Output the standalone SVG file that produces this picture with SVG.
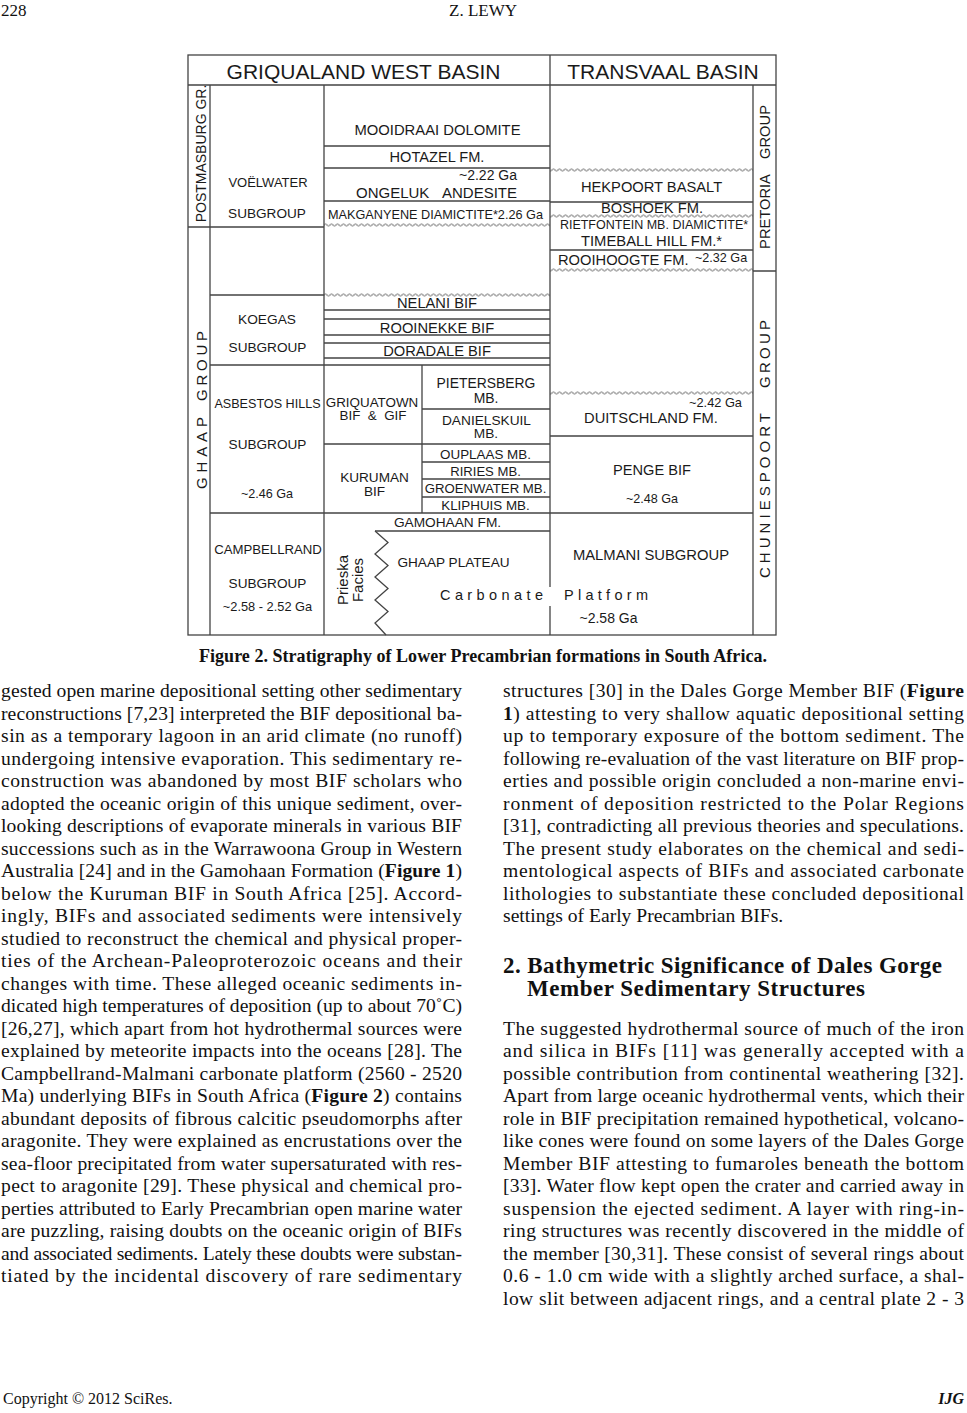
<svg xmlns="http://www.w3.org/2000/svg" width="967" height="1413" viewBox="0 0 967 1413">
<style>
.d{font-family:"Liberation Sans",Arial,sans-serif;fill:#1a1a1a;text-anchor:middle}
.s{font-family:"Liberation Sans",Arial,sans-serif;fill:#1a1a1a}
.p{font-family:"Liberation Serif","Times New Roman",serif;fill:#111;font-size:19.6px}
.hb{font-family:"Liberation Serif","Times New Roman",serif;fill:#111;font-weight:bold}
.bf{font-weight:bold}
</style>
<defs>
<pattern id="wv" patternUnits="userSpaceOnUse" x="0" y="-2.5" width="6" height="5">
<path d="M0 2.5 Q1.5 0.6 3 2.5 T6 2.5" fill="none" stroke="#444" stroke-width="0.9"/>
</pattern>
</defs>
<rect width="967" height="1413" fill="#fff"/>

<!-- page header -->
<text class="p" x="1" y="16" style="font-size:17px">228</text>
<text class="p" x="483" y="16" style="font-size:17px" text-anchor="middle">Z. LEWY</text>

<!-- connectors / frame lines -->
<g id="connectors" stroke="#444" stroke-width="1.3" fill="none">
<rect x="188" y="55" width="588" height="580"/>
<path d="M188 85H776M550 55V587M550 606V635M210 85V635M324 85V635M753 85V635"/>
<path d="M188 227H324M210 295H324M210 365H550M210 513H753"/>
<path d="M324 146H550M324 168H550M324 201H550M324 310H550M324 319H550M324 335H550M324 343H550M324 358H550"/>
<path d="M422 365V513M422 409H550M324 444H550M422 462H550M422 479H550M422 497H550M375 531H550"/>
<path d="M375 531L388 542.5L375 554L388 565.5L375 577L388 588.5L375 600L388 611.5L375 623L386 635"/>
<path d="M550 202H753M550 250H753M550 436H753M753 271H776"/>
<g stroke="none" fill="url(#wv)">
<rect x="324" y="-2.5" width="226" height="5" transform="translate(0,225)"/>
<rect x="324" y="-2.5" width="226" height="5" transform="translate(0,295)"/>
<rect x="550" y="-2.5" width="203" height="5" transform="translate(0,170)"/>
<rect x="550" y="-2.5" width="203" height="5" transform="translate(0,216)"/>
<rect x="550" y="-2.5" width="203" height="5" transform="translate(0,270)"/>
<rect x="550" y="-2.5" width="203" height="5" transform="translate(0,393)"/>
</g>
</g>

<!-- titles -->
<g id="griqualand-title"><text class="d" x="363.5" y="79" font-size="21">GRIQUALAND WEST BASIN</text></g>
<g id="transvaal-title"><text class="d" x="663" y="79" font-size="21">TRANSVAAL BASIN</text></g>

<!-- vertical group labels -->
<g id="postmasburg"><text class="d" transform="translate(206,153.5) rotate(-90)" font-size="14">POSTMASBURG GR.</text></g>
<g id="ghaap-group">
<text class="d" transform="translate(207,453) rotate(-90)" font-size="15" textLength="72" lengthAdjust="spacing">GHAAP</text>
<text class="d" transform="translate(207,366) rotate(-90)" font-size="15" textLength="70" lengthAdjust="spacing">GROUP</text>
</g>
<g id="pretoria-group">
<text class="d" transform="translate(770,211.5) rotate(-90)" font-size="14.7">PRETORIA</text>
<text class="d" transform="translate(770,132) rotate(-90)" font-size="14.7">GROUP</text>
</g>
<g id="chuniespoort-group">
<text class="d" transform="translate(770,495.5) rotate(-90)" font-size="15" textLength="165" lengthAdjust="spacing">CHUNIESPOORT</text>
<text class="d" transform="translate(770,354) rotate(-90)" font-size="15" textLength="68" lengthAdjust="spacing">GROUP</text>
</g>

<!-- Griqualand West: upper -->
<g id="voelwater"><text class="d" x="268" y="187" font-size="13">VOËLWATER</text><text class="d" x="267" y="218" font-size="13.6">SUBGROUP</text></g>
<g id="mooidraai"><text class="d" x="437.5" y="135" font-size="14.8">MOOIDRAAI DOLOMITE</text></g>
<g id="hotazel"><text class="d" x="437" y="162" font-size="14.6">HOTAZEL FM.</text></g>
<g id="ongeluk"><text class="d" x="488" y="180" font-size="14">~2.22 Ga</text><text class="s" x="356" y="198" font-size="15">ONGELUK</text><text class="s" x="517" y="198" font-size="15" text-anchor="end">ANDESITE</text></g>
<g id="makganyene"><text class="s" x="328" y="219" font-size="12.8" textLength="215" lengthAdjust="spacingAndGlyphs">MAKGANYENE DIAMICTITE*2.26 Ga</text></g>

<!-- Transvaal upper -->
<g id="hekpoort"><text class="d" x="651.5" y="192" font-size="14.7">HEKPOORT BASALT</text></g>
<g id="boshoek"><text class="d" x="652" y="213" font-size="14.7">BOSHOEK FM.</text></g>
<g id="rietfontein"><text class="d" x="654" y="229" font-size="12.5">RIETFONTEIN MB. DIAMICTITE*</text></g>
<g id="timeball"><text class="d" x="651.5" y="246" font-size="14.8">TIMEBALL HILL FM.*</text></g>
<g id="rooihoogte"><text class="s" x="558" y="265" font-size="14.7">ROOIHOOGTE FM.</text><text class="s" x="695" y="262" font-size="12.6">~2.32 Ga</text></g>

<!-- Koegas -->
<g id="koegas"><text class="d" x="267" y="324" font-size="13.7">KOEGAS</text><text class="d" x="267.5" y="352" font-size="13.6">SUBGROUP</text></g>
<g id="nelani"><text class="d" x="437" y="308" font-size="14.7">NELANI BIF</text></g>
<g id="rooinekke"><text class="d" x="437" y="333" font-size="14.7">ROOINEKKE BIF</text></g>
<g id="doradale"><text class="d" x="437" y="356" font-size="14.7">DORADALE BIF</text></g>

<!-- Asbestos Hills -->
<g id="asbestos"><text class="d" x="267.5" y="408" font-size="12.6">ASBESTOS HILLS</text><text class="d" x="267.5" y="449" font-size="13.6" fill="#444">SUBGROUP</text><text class="d" x="267" y="498" font-size="12.6">~2.46 Ga</text></g>
<g id="griquatown"><text class="d" x="372" y="407" font-size="13.4">GRIQUATOWN</text><text class="d" x="373" y="420" font-size="13.4" xml:space="preserve">BIF  &amp;  GIF</text></g>
<g id="pietersberg"><text class="d" x="486" y="388" font-size="13.9">PIETERSBERG</text><text class="d" x="486" y="403" font-size="13.9">MB.</text></g>
<g id="danielskuil"><text class="d" x="486.5" y="425" font-size="13.7">DANIELSKUIL</text><text class="d" x="486" y="438" font-size="13.7">MB.</text></g>
<g id="kuruman"><text class="d" x="374.5" y="482" font-size="13.6">KURUMAN</text><text class="d" x="374.5" y="496" font-size="13.6">BIF</text></g>
<g id="ouplaas"><text class="d" x="485.5" y="459" font-size="13.4">OUPLAAS MB.</text></g>
<g id="riries"><text class="d" x="485.5" y="476" font-size="13.1">RIRIES MB.</text></g>
<g id="groenwater"><text class="d" x="485.5" y="493" font-size="13.2">GROENWATER MB.</text></g>
<g id="kliphuis"><text class="d" x="485.5" y="510" font-size="13.4">KLIPHUIS MB.</text></g>

<!-- Transvaal lower -->
<g id="duitschland"><text class="d" x="715.5" y="407" font-size="12.8">~2.42 Ga</text><text class="d" x="651" y="423" font-size="14.7">DUITSCHLAND FM.</text></g>
<g id="penge"><text class="d" x="652" y="475" font-size="14.6">PENGE BIF</text><text class="d" x="652" y="503" font-size="12.6">~2.48 Ga</text></g>
<g id="malmani"><text class="d" x="651" y="560" font-size="14.8">MALMANI SUBGROUP</text><text class="d" x="608.5" y="623" font-size="14">~2.58 Ga</text></g>

<!-- Campbellrand -->
<g id="campbellrand"><text class="d" x="268" y="554" font-size="13.2">CAMPBELLRAND</text><text class="d" x="267.5" y="588" font-size="13.6">SUBGROUP</text><text class="d" x="267.5" y="611" font-size="12.8">~2.58 - 2.52 Ga</text></g>
<g id="gamohaan"><text class="d" x="447.5" y="527" font-size="13.7">GAMOHAAN FM.</text></g>
<g id="ghaap-plateau"><text class="d" x="453.5" y="567" font-size="13.6">GHAAP PLATEAU</text></g>
<g id="prieska"><text class="d" transform="translate(348,580) rotate(-90)" font-size="15">Prieska</text><text class="d" transform="translate(363,580) rotate(-90)" font-size="15">Facies</text></g>
<g id="carbonate-platform"><text class="s" x="440" y="600" font-size="14.5" textLength="103" lengthAdjust="spacing">Carbonate</text><text class="s" x="564" y="600" font-size="14.5" textLength="84" lengthAdjust="spacing">Platform</text></g>

<!-- caption -->
<text class="hb" x="199" y="662" font-size="18" textLength="568" lengthAdjust="spacing">Figure 2. Stratigraphy of Lower Precambrian formations in South Africa.</text>

<!-- left column -->
<g class="p">
<text x="1" y="697" textLength="461" lengthAdjust="spacing">gested open marine depositional setting other sedimentary</text>
<text x="1" y="719.5" textLength="461" lengthAdjust="spacing">reconstructions [7,23] interpreted the BIF depositional ba-</text>
<text x="1" y="742" textLength="461" lengthAdjust="spacing">sin as a temporary lagoon in an arid climate (no runoff)</text>
<text x="1" y="764.5" textLength="461" lengthAdjust="spacing">undergoing intensive evaporation. This sedimentary re-</text>
<text x="1" y="787" textLength="461" lengthAdjust="spacing">construction was abandoned by most BIF scholars who</text>
<text x="1" y="809.5" textLength="461" lengthAdjust="spacing">adopted the oceanic origin of this unique sediment, over-</text>
<text x="1" y="832" textLength="461" lengthAdjust="spacing">looking descriptions of evaporate minerals in various BIF</text>
<text x="1" y="854.5" textLength="461" lengthAdjust="spacing">successions such as in the Warrawoona Group in Western</text>
<text x="1" y="877" textLength="461" lengthAdjust="spacing">Australia [24] and in the Gamohaan Formation (<tspan class="bf">Figure 1</tspan>)</text>
<text x="1" y="899.5" textLength="461" lengthAdjust="spacing">below the Kuruman BIF in South Africa [25]. Accord-</text>
<text x="1" y="922" textLength="461" lengthAdjust="spacing">ingly, BIFs and associated sediments were intensively</text>
<text x="1" y="944.5" textLength="461" lengthAdjust="spacing">studied to reconstruct the chemical and physical proper-</text>
<text x="1" y="967" textLength="461" lengthAdjust="spacing">ties of the Archean-Paleoproterozoic oceans and their</text>
<text x="1" y="989.5" textLength="461" lengthAdjust="spacing">changes with time. These alleged oceanic sediments in-</text>
<text x="1" y="1012" textLength="461" lengthAdjust="spacing">dicated high temperatures of deposition (up to about 70˚C)</text>
<text x="1" y="1034.5" textLength="461" lengthAdjust="spacing">[26,27], which apart from hot hydrothermal sources were</text>
<text x="1" y="1057" textLength="461" lengthAdjust="spacing">explained by meteorite impacts into the oceans [28]. The</text>
<text x="1" y="1079.5" textLength="461" lengthAdjust="spacing">Campbellrand-Malmani carbonate platform (2560 - 2520</text>
<text x="1" y="1102" textLength="461" lengthAdjust="spacing">Ma) underlying BIFs in South Africa (<tspan class="bf">Figure 2</tspan>) contains</text>
<text x="1" y="1124.5" textLength="461" lengthAdjust="spacing">abundant deposits of fibrous calcitic pseudomorphs after</text>
<text x="1" y="1147" textLength="461" lengthAdjust="spacing">aragonite. They were explained as encrustations over the</text>
<text x="1" y="1169.5" textLength="461" lengthAdjust="spacing">sea-floor precipitated from water supersaturated with res-</text>
<text x="1" y="1192" textLength="461" lengthAdjust="spacing">pect to aragonite [29]. These physical and chemical pro-</text>
<text x="1" y="1214.5" textLength="461" lengthAdjust="spacing">perties attributed to Early Precambrian open marine water</text>
<text x="1" y="1237" textLength="461" lengthAdjust="spacing">are puzzling, raising doubts on the oceanic origin of BIFs</text>
<text x="1" y="1259.5" textLength="461" lengthAdjust="spacing">and associated sediments. Lately these doubts were substan-</text>
<text x="1" y="1282" textLength="461" lengthAdjust="spacing">tiated by the incidental discovery of rare sedimentary</text>
</g>

<!-- right column -->
<g class="p">
<text x="503" y="697" textLength="461" lengthAdjust="spacing">structures [30] in the Dales Gorge Member BIF (<tspan class="bf">Figure</tspan></text>
<text x="503" y="719.5" textLength="461" lengthAdjust="spacing"><tspan class="bf">1</tspan>) attesting to very shallow aquatic depositional setting</text>
<text x="503" y="742" textLength="461" lengthAdjust="spacing">up to temporary exposure of the bottom sediment. The</text>
<text x="503" y="764.5" textLength="461" lengthAdjust="spacing">following re-evaluation of the vast literature on BIF prop-</text>
<text x="503" y="787" textLength="461" lengthAdjust="spacing">erties and possible origin concluded a non-marine envi-</text>
<text x="503" y="809.5" textLength="461" lengthAdjust="spacing">ronment of deposition restricted to the Polar Regions</text>
<text x="503" y="832" textLength="461" lengthAdjust="spacing">[31], contradicting all previous theories and speculations.</text>
<text x="503" y="854.5" textLength="461" lengthAdjust="spacing">The present study elaborates on the chemical and sedi-</text>
<text x="503" y="877" textLength="461" lengthAdjust="spacing">mentological aspects of BIFs and associated carbonate</text>
<text x="503" y="899.5" textLength="461" lengthAdjust="spacing">lithologies to substantiate these concluded depositional</text>
<text x="503" y="922">settings of Early Precambrian BIFs.</text>
</g>
<text class="hb" x="503" y="973" font-size="23" textLength="439" lengthAdjust="spacing">2. Bathymetric Significance of Dales Gorge</text>
<text class="hb" x="527" y="996" font-size="23" textLength="338" lengthAdjust="spacing">Member Sedimentary Structures</text>
<g class="p">
<text x="503" y="1034.5" textLength="461" lengthAdjust="spacing">The suggested hydrothermal source of much of the iron</text>
<text x="503" y="1057" textLength="461" lengthAdjust="spacing">and silica in BIFs [11] was generally accepted with a</text>
<text x="503" y="1079.5" textLength="461" lengthAdjust="spacing">possible contribution from continental weathering [32].</text>
<text x="503" y="1102" textLength="461" lengthAdjust="spacing">Apart from large oceanic hydrothermal vents, which their</text>
<text x="503" y="1124.5" textLength="461" lengthAdjust="spacing">role in BIF precipitation remained hypothetical, volcano-</text>
<text x="503" y="1147" textLength="461" lengthAdjust="spacing">like cones were found on some layers of the Dales Gorge</text>
<text x="503" y="1169.5" textLength="461" lengthAdjust="spacing">Member BIF attesting to fumaroles beneath the bottom</text>
<text x="503" y="1192" textLength="461" lengthAdjust="spacing">[33]. Water flow kept open the crater and carried away in</text>
<text x="503" y="1214.5" textLength="461" lengthAdjust="spacing">suspension the ejected sediment. A layer with ring-in-</text>
<text x="503" y="1237" textLength="461" lengthAdjust="spacing">ring structures was recently discovered in the middle of</text>
<text x="503" y="1259.5" textLength="461" lengthAdjust="spacing">the member [30,31]. These consist of several rings about</text>
<text x="503" y="1282" textLength="461" lengthAdjust="spacing">0.6 - 1.0 cm wide with a slightly arched surface, a shal-</text>
<text x="503" y="1304.5" textLength="461" lengthAdjust="spacing">low slit between adjacent rings, and a central plate 2 - 3</text>
</g>

<!-- footer -->
<text class="p" x="3" y="1404" style="font-size:16px">Copyright © 2012 SciRes.</text>
<text class="p" x="964" y="1404" style="font-size:16px;font-weight:bold;font-style:italic" text-anchor="end">IJG</text>
</svg>
